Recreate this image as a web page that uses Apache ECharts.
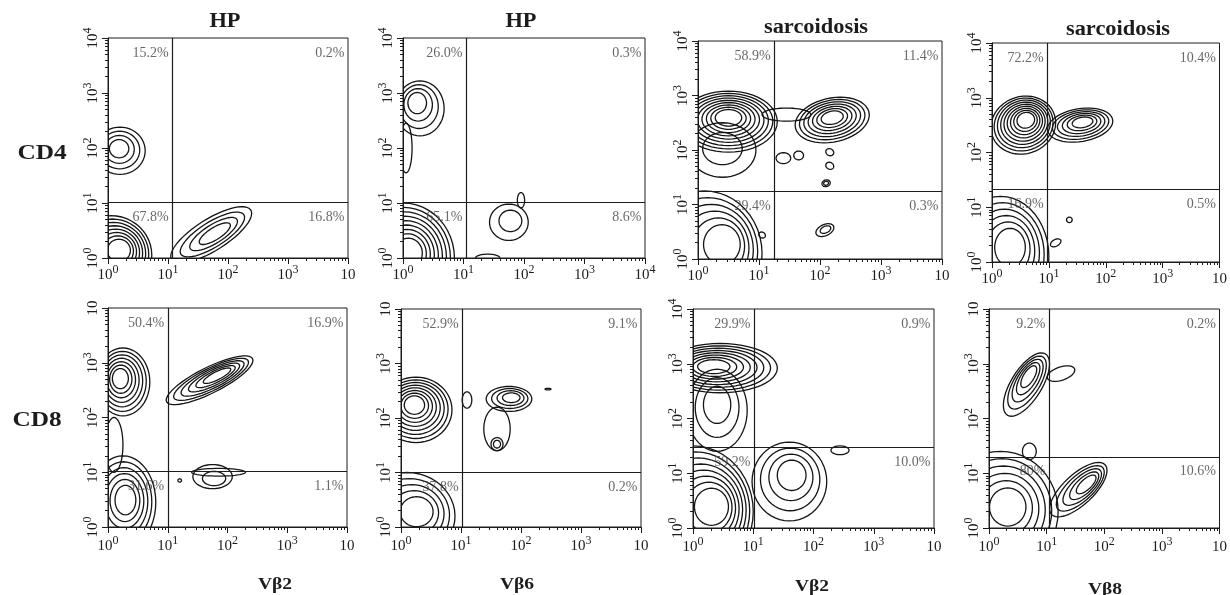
<!DOCTYPE html>
<html>
<head>
<meta charset="utf-8">
<script src="https://cdn.jsdelivr.net/npm/echarts@6/dist/echarts.min.js"></script>
<style>
html,body{margin:0;padding:0;background:#fff;}
#chart{width:1230px;height:595px;}
</style>
</head>
<body>
<div id="chart"></div>
<script>
// ---------------- data ----------------
const columnTitles = ['HP', 'HP', 'sarcoidosis', 'sarcoidosis'];
const rowTitles = ['CD4', 'CD8'];
const xAxisNames = ['Vβ2', 'Vβ6', 'Vβ2', 'Vβ8'];

// quadrant gates (log10 units) per panel: row1 col1..4, row2 col1..4
const gatesX = [1.07, 1.04, 1.25, 0.97, 1.00, 1.02, 1.01, 1.04];
const gatesY = [1.02, 1.02, 1.25, 1.33, 1.02, 1.00, 1.48, 1.30];

const pctUL = ['15.2%', '26.0%', '58.9%', '72.2%', '50.4%', '52.9%', '29.9%', '9.2%'];
const pctUR = ['0.2%', '0.3%', '11.4%', '10.4%', '16.9%', '9.1%', '0.9%', '0.2%'];
const pctLL = ['67.8%', '65.1%', '29.4%', '16.9%', '31.6%', '37.8%', '59.2%', '80%'];
const pctLR = ['16.8%', '8.6%', '0.3%', '0.5%', '1.1%', '0.2%', '10.0%', '10.6%'];

// tick label exponents ('' = plain "10")
const xTickExp = [
  ['0', '1', '2', '3', ''], ['0', '1', '2', '3', '4'], ['0', '1', '2', '3', ''], ['0', '1', '2', '3', ''],
  ['0', '1', '2', '3', ''], ['0', '1', '2', '3', ''], ['0', '1', '2', '3', ''], ['0', '1', '2', '3', '']
];
const yTickExp = [
  ['0', '1', '2', '3', '4'], ['0', '1', '2', '3', '4'], ['0', '1', '2', '3', '4'], ['0', '1', '2', '3', '4'],
  ['0', '1', '2', '3', ''], ['0', '1', '2', '3', ''], ['0', '1', '2', '3', '4'], ['0', '1', '2', '3', '']
];

// contour populations: [cx, cy, rx, ry, angleDeg, levels, innerCx, innerCy] (log10 units)
const blobsCD4HP2 = [
  [0.20, 1.95, 0.42, 0.43, 0, 4, 0.18, 2.00],
  [0.05, 0.05, 0.68, 0.72, 0, 8, 0.20, 0.15],
  [1.72, 0.42, 0.80, 0.28, 35, 4, 1.80, 0.45]
];
const blobsCD4HP6 = [
  [0.28, 2.72, 0.40, 0.50, 0, 4, 0.22, 2.85],
  [0.05, 2.00, 0.10, 0.45, 0, 1, 0.05, 2.00],
  [0.00, 0.00, 0.85, 1.00, 0, 9, 0.10, 0.10],
  [1.75, 0.65, 0.32, 0.33, 0, 2, 1.80, 0.70],
  [1.95, 1.05, 0.06, 0.14, 0, 1, 1.95, 1.05],
  [1.40, 0.00, 0.20, 0.07, 0, 1, 1.40, 0.00]
];
const blobsCD4Sar2 = [
  [0.50, 2.52, 0.80, 0.56, 0, 9, 0.50, 2.60],
  [0.40, 2.00, 0.55, 0.50, 0, 2, 0.40, 2.05],
  [1.45, 2.65, 0.40, 0.12, 0, 1, 1.45, 2.65],
  [2.20, 2.55, 0.62, 0.40, 15, 7, 2.20, 2.60],
  [2.16, 1.96, 0.06, 0.07, 45, 1, 2.16, 1.96],
  [2.16, 1.71, 0.06, 0.07, 45, 1, 2.16, 1.71],
  [2.10, 1.39, 0.07, 0.06, 30, 2, 2.10, 1.39],
  [2.08, 0.53, 0.16, 0.10, 30, 2, 2.10, 0.55],
  [0.10, 0.10, 0.95, 1.15, 0, 6, 0.45, 0.30],
  [1.05, 0.44, 0.05, 0.06, 45, 1, 1.05, 0.44],
  [1.40, 1.85, 0.12, 0.10, 0, 1, 1.40, 1.85],
  [1.65, 1.90, 0.08, 0.08, 0, 1, 1.65, 1.90]
];
const blobsCD4Sar8 = [
  [0.55, 2.50, 0.58, 0.52, 25, 9, 0.60, 2.60],
  [1.55, 2.50, 0.58, 0.30, 10, 6, 1.60, 2.56],
  [0.15, 0.10, 0.85, 1.10, 0, 6, 0.35, 0.30],
  [1.36, 0.77, 0.05, 0.05, 0, 1, 1.36, 0.77],
  [1.12, 0.35, 0.10, 0.06, 30, 1, 1.12, 0.35]
];
const blobsCD8HP2 = [
  [0.25, 2.65, 0.45, 0.62, 0, 7, 0.20, 2.72],
  [0.10, 1.50, 0.15, 0.50, 0, 1, 0.10, 1.50],
  [1.70, 2.68, 0.82, 0.23, 29, 6, 1.85, 2.78],
  [0.25, 0.45, 0.55, 0.85, 0, 6, 0.30, 0.50],
  [1.75, 0.92, 0.33, 0.22, 0, 2, 1.80, 0.85],
  [1.85, 1.00, 0.45, 0.07, 0, 1, 1.85, 1.00],
  [1.20, 0.85, 0.03, 0.03, 0, 1, 1.20, 0.85]
];
const blobsCD8HP6 = [
  [0.25, 2.15, 0.60, 0.60, 0, 8, 0.22, 2.25],
  [1.80, 2.35, 0.38, 0.23, 0, 4, 1.85, 2.38],
  [1.60, 1.80, 0.22, 0.40, 0, 1, 1.60, 1.80],
  [1.60, 1.52, 0.10, 0.12, 0, 2, 1.60, 1.52],
  [1.10, 2.33, 0.08, 0.15, 0, 1, 1.10, 2.33],
  [2.45, 2.53, 0.05, 0.015, 0, 1, 2.45, 2.53],
  [0.10, 0.20, 0.80, 0.80, 0, 5, 0.30, 0.30]
];
const blobsCD8Sar2 = [
  [0.45, 2.92, 0.95, 0.45, 0, 8, 0.33, 2.95],
  [0.40, 2.15, 0.50, 0.75, 0, 3, 0.40, 2.30],
  [0.00, 0.30, 1.00, 1.20, 0, 8, 0.35, 0.40],
  [1.60, 0.85, 0.62, 0.72, 0, 4, 1.65, 1.00],
  [2.44, 1.42, 0.15, 0.08, 0, 1, 2.44, 1.42]
];
const blobsCD8Sar8 = [
  [0.65, 2.62, 0.65, 0.27, 60, 5, 0.70, 2.80],
  [1.25, 2.82, 0.25, 0.12, 20, 1, 1.25, 2.82],
  [0.20, 0.30, 1.00, 1.10, 0, 6, 0.35, 0.40],
  [1.55, 0.70, 0.65, 0.27, 45, 5, 1.72, 0.82],
  [0.70, 1.40, 0.12, 0.15, 0, 1, 0.70, 1.40]
];
const panelBlobs = [blobsCD4HP2, blobsCD4HP6, blobsCD4Sar2, blobsCD4Sar8,
                    blobsCD8HP2, blobsCD8HP6, blobsCD8Sar2, blobsCD8Sar8];

// ---------------- layout ----------------
const panelBoxes = [
  {l: 108, t: 38, r: 348, b: 258}, {l: 403, t: 38, r: 645, b: 258},
  {l: 698, t: 41, r: 942, b: 259}, {l: 992, t: 43, r: 1232, b: 262},
  {l: 108, t: 308, r: 347, b: 527}, {l: 401, t: 309, r: 641, b: 527},
  {l: 693, t: 309, r: 934, b: 528}, {l: 989, t: 309, r: 1228, b: 528}
];
const colTitlePos = [[225, 22], [521, 22], [816, 28], [1118, 30]];
const rowTitlePos = [[42, 153], [37, 420]];
const xNamePos = [[275, 585], [517, 585], [812, 587], [1105, 590]];

const INK = '#1c1c1c';
const SERIF = '"Liberation Serif", "DejaVu Serif", serif';

// log minor tick positions inside each decade
const minorTicks = [];
for (let d = 0; d < 4; d++) for (let k = 2; k <= 9; k++) minorTicks.push(d + Math.log10(k));

const richTick = {
  b: {fontSize: 15, fontFamily: SERIF, color: INK, lineHeight: 22},
  s: {fontSize: 12, fontFamily: SERIF, color: INK, lineHeight: 11, verticalAlign: 'top'}
};
function tickFmt(exps) {
  return function (v) {
    const e = exps[Math.round(v)];
    return e ? '{b|10}{s|' + e + '}' : '{b|10}';
  };
}

const grids = [], xAxes = [], yAxes = [], series = [];
panelBoxes.forEach((p, g) => {
  grids.push({left: p.l, top: p.t, width: p.r - p.l, height: p.b - p.t,
    show: true, borderColor: INK, borderWidth: 1, backgroundColor: 'transparent'});
  const row = Math.floor(g / 4);
  xAxes.push({type: 'value', gridIndex: g, min: 0, max: 4, interval: 1, position: 'bottom',
    axisLine: {show: true, lineStyle: {color: INK, width: 1}},
    axisTick: {show: true, length: 6, lineStyle: {color: INK}},
    splitLine: {show: false},
    axisLabel: {show: true, margin: row === 0 ? 6 : 8, formatter: tickFmt(xTickExp[g]), rich: richTick,
      showMinLabel: true, showMaxLabel: true}});
  xAxes.push({type: 'value', gridIndex: g, min: 0, max: 4, position: 'bottom',
    axisLine: {show: false}, splitLine: {show: false}, axisLabel: {show: false},
    axisTick: {show: true, length: 3, customValues: minorTicks, lineStyle: {color: INK}}});
  yAxes.push({type: 'value', gridIndex: g, min: 0, max: 4, interval: 1, position: 'left',
    axisLine: {show: true, lineStyle: {color: INK, width: 1}},
    axisTick: {show: true, length: 6, lineStyle: {color: INK}},
    splitLine: {show: false},
    axisLabel: {show: true, rotate: 90, margin: 4, formatter: tickFmt(yTickExp[g]), rich: richTick,
      showMinLabel: true, showMaxLabel: true}});
  yAxes.push({type: 'value', gridIndex: g, min: 0, max: 4, position: 'left',
    axisLine: {show: false}, splitLine: {show: false}, axisLabel: {show: false},
    axisTick: {show: true, length: 3, customValues: minorTicks, lineStyle: {color: INK}}});

  // contour populations
  series.push({
    type: 'custom', xAxisIndex: 2 * g, yAxisIndex: 2 * g, clip: true, silent: true,
    encode: {x: 0, y: 1},
    data: panelBlobs[g],
    renderItem: function (params, api) {
      const cx = api.value(0), cy = api.value(1), rx = api.value(2), ry = api.value(3);
      const ang = api.value(4) * Math.PI / 180, n = api.value(5);
      const icx = api.value(6), icy = api.value(7);
      const ca = Math.cos(ang), sa = Math.sin(ang);
      const children = [];
      for (let i = 0; i < n; i++) {
        const f = i / n, s = 1 - 0.82 * f;
        const ccx = cx + (icx - cx) * f, ccy = cy + (icy - cy) * f;
        const pts = [];
        for (let k = 0; k < 48; k++) {
          const t = 2 * Math.PI * k / 48;
          const ex = rx * s * Math.cos(t), ey = ry * s * Math.sin(t);
          pts.push(api.coord([ccx + ex * ca - ey * sa, ccy + ex * sa + ey * ca]));
        }
        children.push({type: 'polygon', shape: {points: pts},
          style: {fill: 'none', stroke: '#151515', lineWidth: 1.3}});
      }
      return {type: 'group', children: children};
    }
  });

  // quadrant lines + percentage labels
  const gx = gatesX[g], gy = gatesY[g];
  series.push({
    type: 'scatter', xAxisIndex: 2 * g, yAxisIndex: 2 * g, silent: true,
    symbolSize: 1, itemStyle: {color: 'rgba(0,0,0,0)'},
    data: [[gx, 4, pctUL[g]], [4, 4, pctUR[g]], [gx, gy, pctLL[g]], [4, gy, pctLR[g]]],
    label: {show: true, position: 'left', distance: 3, offset: [0, 15],
      formatter: function (pr) { return pr.data[2]; },
      fontFamily: SERIF, fontSize: 14, color: '#444'},
    markLine: {silent: true, symbol: ['none', 'none'], label: {show: false},
      lineStyle: {color: INK, type: 'solid', width: 1.2}, emphasis: {disabled: true},
      data: [{xAxis: gx}, {yAxis: gy}]}
  });
});

const graphics = [];
columnTitles.forEach((t, i) => graphics.push({type: 'text', x: colTitlePos[i][0], y: colTitlePos[i][1], scaleX: 1.12,
  style: {text: t, font: 'bold 20px ' + SERIF, fill: INK, align: 'center', verticalAlign: 'middle',
    textAlign: 'center', textVerticalAlign: 'middle'}}));
rowTitles.forEach((t, i) => graphics.push({type: 'text', x: rowTitlePos[i][0], y: rowTitlePos[i][1], scaleX: 1.15,
  style: {text: t, font: 'bold 22px ' + SERIF, fill: INK, align: 'center', verticalAlign: 'middle',
    textAlign: 'center', textVerticalAlign: 'middle'}}));
xAxisNames.forEach((t, i) => graphics.push({type: 'text', x: xNamePos[i][0], y: xNamePos[i][1], scaleX: 1.15,
  style: {text: t, font: 'bold 17px ' + SERIF, fill: INK, align: 'center', verticalAlign: 'middle',
    textAlign: 'center', textVerticalAlign: 'middle'}}));

const chart = echarts.init(document.getElementById('chart'), null, {renderer: 'canvas'});
chart.setOption({
  backgroundColor: '#fff',
  animation: false,
  grid: grids,
  xAxis: xAxes,
  yAxis: yAxes,
  series: series,
  graphic: graphics
});
</script>
</body>
</html>
